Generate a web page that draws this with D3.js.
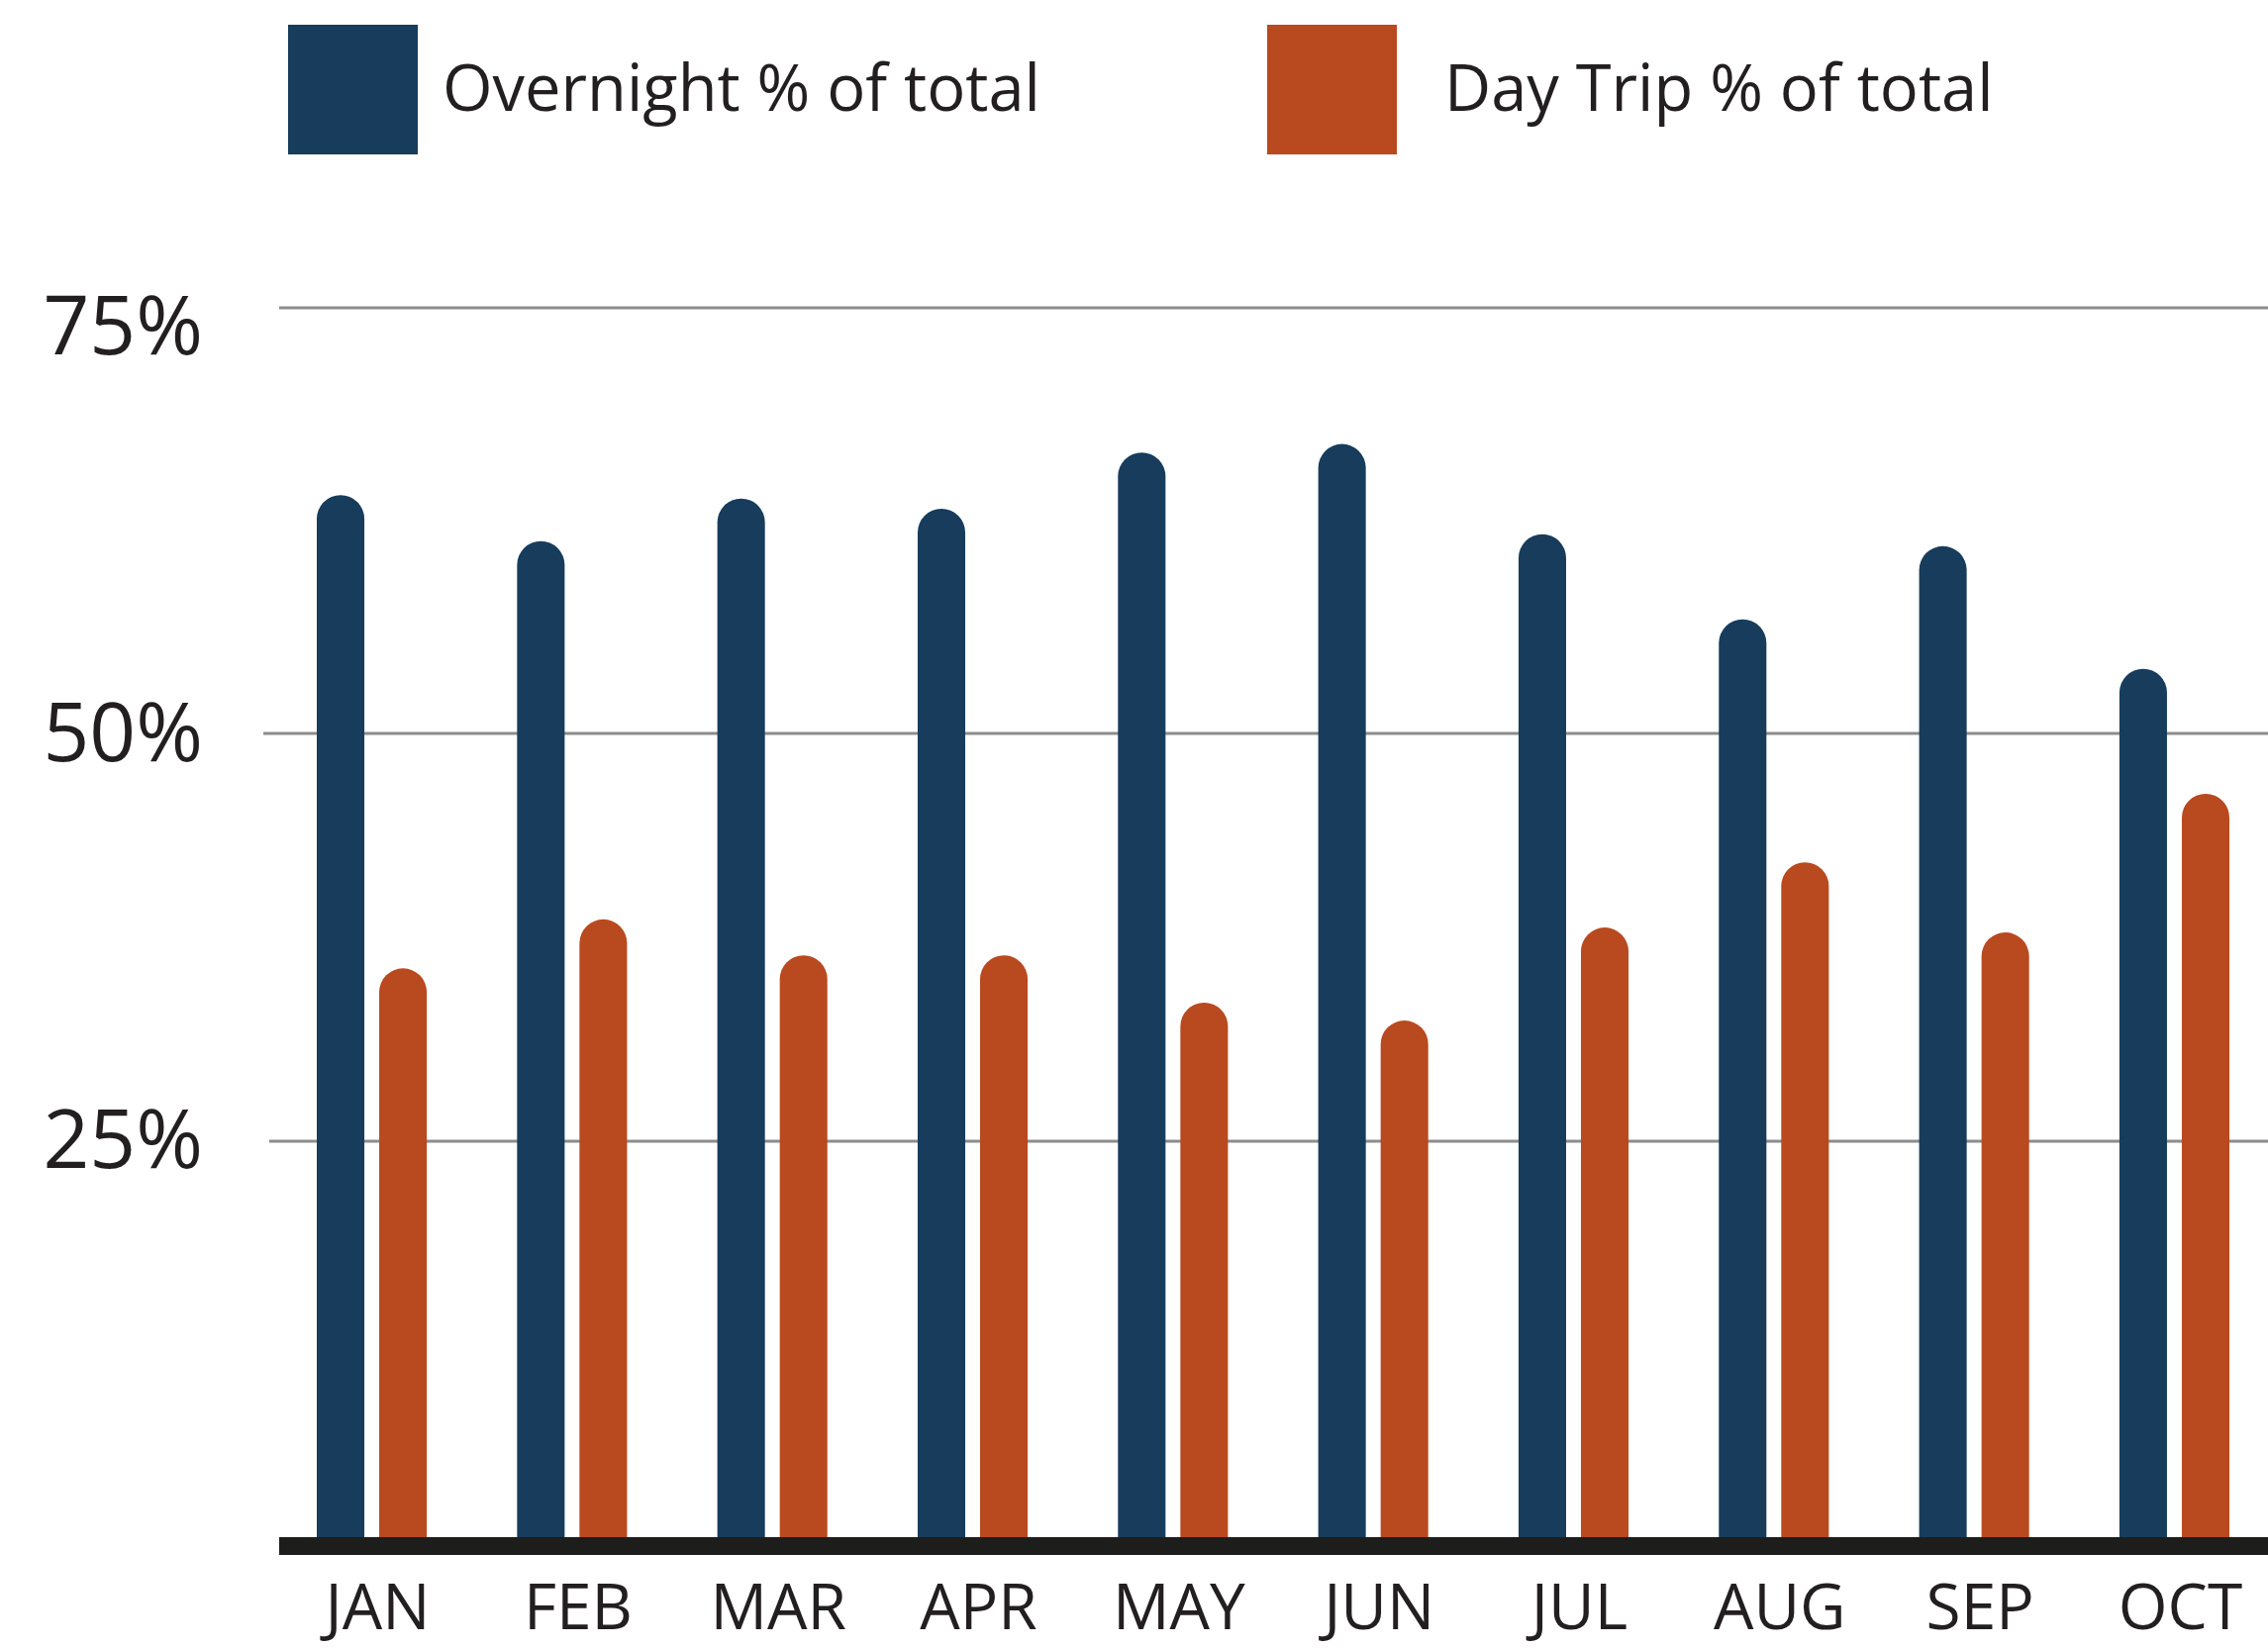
<!DOCTYPE html>
<html>
<head>
<meta charset="utf-8">
<script src="https://cdn.jsdelivr.net/npm/d3@7"></script>
<style>
  html, body { margin: 0; padding: 0; background: #ffffff; }
  svg { display: block; }
  text { font-family: "Open Sans", "Noto Sans", sans-serif; fill: #231f20; }
</style>
</head>
<body>
<svg id="chart" width="2291" height="1665"></svg>
<script>
// ---- data ----
const months = ["JAN", "FEB", "MAR", "APR", "MAY", "JUN", "JUL", "AUG", "SEP", "OCT"];
const overnight = [64.0, 61.3, 63.8, 63.2, 66.5, 67.0, 61.7, 56.7, 61.0, 53.8];
const dayTrip   = [35.6, 38.6, 36.4, 36.4, 33.5, 32.4, 38.1, 42.1, 37.8, 46.3];
const seriesKeys = ["overnight", "day"];
const seriesNames = ["Overnight % of total", "Day Trip % of total"];
const seriesColors = ["#173c5c", "#b9491f"];
const yTicks = [25, 50, 75];

// ---- layout ----
const W = 2291, H = 1665;
const svg = d3.select("#chart");

const x0 = d3.scaleBand().domain(months).range([320, 2252]).paddingInner(0.451).paddingOuter(0);
const x1 = d3.scaleBand().domain(seriesKeys).range([0, x0.bandwidth()]).paddingInner(0.238).paddingOuter(0);
// gridline positions as drawn in the source graphic
const y = d3.scaleLinear().domain([0, 25, 50, 75]).range([1562, 1153, 741, 311]);
// tick label baselines
const yLab = d3.scaleLinear().domain([25, 75]).range([1180, 358]);

// gridlines
const gridStart = {25: 272, 50: 266, 75: 282};
svg.append("g").selectAll("line").data(yTicks).join("line")
  .attr("x1", d => gridStart[d]).attr("x2", W)
  .attr("y1", d => y(d)).attr("y2", d => y(d))
  .attr("stroke", "#8c8c8e").attr("stroke-width", 3);

// y labels
svg.append("g").selectAll("text").data(yTicks).join("text")
  .attr("x", 205).attr("y", d => yLab(d))
  .attr("text-anchor", "end")
  .attr("font-size", 82)
  .text(d => d + "%");

// bars
const rows = months.map((m, i) => ({month: m, overnight: overnight[i], day: dayTrip[i]}));
const colorOf = d3.scaleOrdinal().domain(seriesKeys).range(seriesColors);

function barPath(x, top, w, base) {
  const r = w / 2;
  return `M${x},${base} L${x},${top + r} A${r},${r} 0 0 1 ${x + w},${top + r} L${x + w},${base} Z`;
}

svg.append("g").selectAll("g").data(rows).join("g")
  .attr("transform", d => `translate(${x0(d.month)},0)`)
  .selectAll("path")
  .data(d => seriesKeys.map(k => ({key: k, value: d[k]})))
  .join("path")
  .attr("d", d => barPath(x1(d.key), y(d.value), x1.bandwidth(), y(0)))
  .attr("fill", d => colorOf(d.key));

// baseline
svg.append("line")
  .attr("x1", 282).attr("x2", W)
  .attr("y1", y(0)).attr("y2", y(0))
  .attr("stroke", "#1d1d1b").attr("stroke-width", 18);

// x labels
svg.append("g").selectAll("text").data(months).join("text")
  .attr("x", d => x0(d) + x0.bandwidth() / 2 + 6)
  .attr("y", 1646)
  .attr("text-anchor", "middle")
  .attr("font-size", 64)
  .text(d => d);

// legend
const legendX = [291, 1280];
const legendTextX = [447, 1459];
const lg = svg.append("g").selectAll("g").data(seriesKeys).join("g");
lg.append("rect")
  .attr("x", (d, i) => legendX[i]).attr("y", 25)
  .attr("width", 131).attr("height", 131)
  .attr("fill", d => colorOf(d));
lg.append("text")
  .attr("x", (d, i) => legendTextX[i]).attr("y", 112)
  .attr("font-size", 65)
  .text((d, i) => seriesNames[i]);
</script>
</body>
</html>
